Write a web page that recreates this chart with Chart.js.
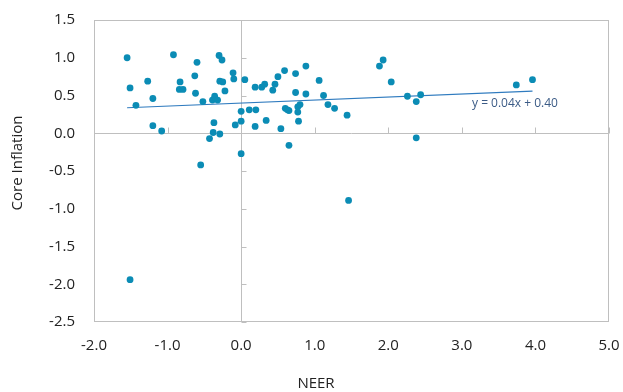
<!DOCTYPE html>
<html>
<head>
<meta charset="utf-8">
<script src="https://cdn.jsdelivr.net/npm/chart.js@4"></script>
<style>
  html, body { margin: 0; padding: 0; background: #fff; }
  #wrap { width: 623px; height: 392px; }
</style>
</head>
<body>
<div id="wrap"><canvas id="chart" width="623" height="392"></canvas></div>
<script>
// NEER change (x) vs core inflation (y)
const neer = [
  -1.55, -1.51, -1.43, -1.27, -1.20, -1.20, -1.08, -0.92, -0.83, -0.84,
  -0.79, -0.63, -0.60, -0.62, -0.52, -0.55, -0.43, -0.38, -0.37, -0.39,
  -0.36, -0.32, -0.30, -0.26, -0.29, -0.25, -0.22, -0.29, -0.11, -0.10,
  -0.08, 0.00, 0.00, 0.00, 0.05, 0.11, 0.19, 0.20, 0.19, 0.28,
  0.32, 0.34, 0.43, 0.46, 0.50, 0.59, 0.54, 0.60, 0.63, 0.65,
  0.65, 0.74, 0.74, 0.88, 0.88, 0.77, 0.80, 0.77, 0.78, 1.06,
  1.12, 1.18, 1.27, 1.44, 1.88, 1.93, 2.04, 2.26, 2.38, 2.44,
  2.38, 3.74, 3.96, 1.46, -1.51
];
const coreInflation = [
  1.00, 0.60, 0.37, 0.69, 0.46, 0.10, 0.03, 1.04, 0.68, 0.58,
  0.58, 0.76, 0.94, 0.53, 0.42, -0.42, -0.07, 0.01, 0.14, 0.44,
  0.49, 0.44, 1.03, 0.97, 0.69, 0.68, 0.56, -0.01, 0.80, 0.72,
  0.11, 0.29, 0.16, -0.27, 0.71, 0.31, 0.61, 0.31, 0.09, 0.61,
  0.65, 0.17, 0.57, 0.65, 0.75, 0.83, 0.06, 0.33, 0.31, 0.30,
  -0.16, 0.79, 0.54, 0.89, 0.52, 0.35, 0.38, 0.28, 0.16, 0.70,
  0.50, 0.38, 0.33, 0.24, 0.89, 0.97, 0.68, 0.49, 0.42, 0.51,
  -0.06, 0.64, 0.71, -0.89, -1.94
];
const xTicks = [-2, -1, 0, 1, 2, 3, 4, 5];
const yTicks = [-2.5, -2, -1.5, -1, -0.5, 0, 0.5, 1, 1.5];

// linear trend shown on the chart
const trendSlope = 0.04;
const trendIntercept = 0.40;
const trendLabel = 'y = 0.04x + 0.40';

const xTitle = 'NEER';
const yTitle = 'Core Inflation';

const points = neer.map((x, i) => ({ x: x, y: coreInflation[i] }));
const xMin = Math.min(...neer), xMax = Math.max(...neer);
const trend = [xMin, xMax].map(x => ({ x: x, y: trendSlope * x + trendIntercept }));

const FONT = '"Open Sans", "Noto Sans", sans-serif';
const AXIS_GRAY = '#bfbfbf';

// frame, crossing axes at zero with their tick marks, titles, trend label
const decor = {
  id: 'decor',
  beforeDatasetsDraw(chart) {
    const c = chart.ctx, a = chart.chartArea;
    const xs = chart.scales.x, ys = chart.scales.y;
    const x0 = Math.round(xs.getPixelForValue(0)) + 0.5;
    const y0 = Math.round(ys.getPixelForValue(0)) + 0.5;
    c.save();
    c.strokeStyle = AXIS_GRAY;
    c.lineWidth = 1;
    c.strokeRect(a.left + 0.5, a.top + 0.5, a.right - a.left - 1, a.bottom - a.top - 1);
    c.beginPath();
    c.moveTo(x0, a.top); c.lineTo(x0, a.bottom);
    c.moveTo(a.left, y0); c.lineTo(a.right, y0);
    xTicks.forEach(v => {
      const px = Math.round(xs.getPixelForValue(v)) + 0.5;
      c.moveTo(px, y0); c.lineTo(px, y0 - 6);
    });
    yTicks.forEach(v => {
      const py = Math.round(ys.getPixelForValue(v)) + 0.5;
      c.moveTo(x0, py); c.lineTo(x0 + 5, py);
    });
    c.stroke();
    c.restore();
  },
  afterDraw(chart) {
    const c = chart.ctx;
    c.save();
    c.fillStyle = '#222';
    c.font = '15px ' + FONT;
    c.textAlign = 'center';
    c.textBaseline = 'middle';
    c.fillText(xTitle, 316, 384);
    c.translate(18, 163);
    c.rotate(-Math.PI / 2);
    c.fillText(yTitle, 0, 0);
    c.restore();

    c.save();
    c.fillStyle = '#3b5b86';
    c.font = '12px ' + FONT;
    c.textAlign = 'left';
    c.textBaseline = 'middle';
    c.fillText(trendLabel, 472, 104);
    c.restore();
  }
};

new Chart(document.getElementById('chart'), {
  type: 'scatter',
  data: {
    datasets: [
      {
        label: 'Core Inflation',
        data: points,
        backgroundColor: '#0b8cb5',
        borderWidth: 0,
        pointRadius: 3.4,
        order: 1
      },
      {
        type: 'line',
        label: 'Trend',
        data: trend,
        borderColor: '#2f7bbf',
        borderWidth: 1.2,
        pointRadius: 0,
        fill: false,
        order: 2
      }
    ]
  },
  options: {
    responsive: false,
    devicePixelRatio: 1,
    animation: false,
    layout: { padding: { top: 20, right: 14, left: 0, bottom: 0 } },
    plugins: {
      legend: { display: false },
      tooltip: { enabled: false }
    },
    scales: {
      x: {
        type: 'linear',
        min: -2, max: 5,
        afterBuildTicks: s => { s.ticks = xTicks.map(v => ({ value: v })); },
        afterFit: s => { s.height = 70; s.paddingLeft = 0; s.paddingRight = 0; },
        grid: { display: false, drawTicks: false },
        border: { display: false },
        ticks: {
          padding: 15,
          color: '#222',
          font: { family: FONT, size: 15 },
          callback: v => v.toFixed(1),
          maxRotation: 0
        }
      },
      y: {
        type: 'linear',
        min: -2.5, max: 1.5,
        afterBuildTicks: s => { s.ticks = yTicks.map(v => ({ value: v })); },
        afterFit: s => { s.width = 94; s.paddingTop = 0; s.paddingBottom = 0; },
        grid: { display: false, drawTicks: false },
        border: { display: false },
        ticks: {
          padding: 19,
          color: '#222',
          font: { family: FONT, size: 15 },
          callback: v => v.toFixed(1)
        }
      }
    }
  },
  plugins: [decor]
});
</script>
</body>
</html>
